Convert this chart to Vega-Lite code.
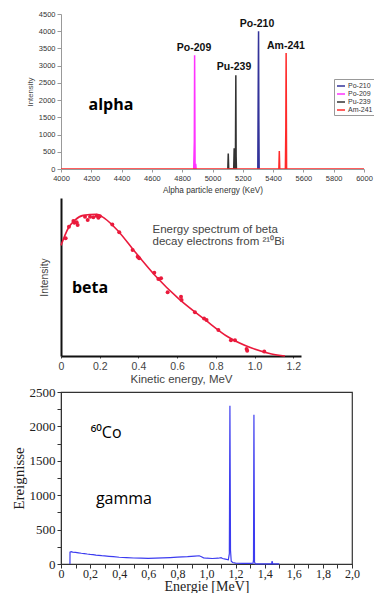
{
  "$schema": "https://vega.github.io/schema/vega-lite/v6.json",
  "padding": {"left": 10, "top": 10, "right": 0, "bottom": 0},
  "spacing": 0,
  "config": {"view": {"stroke": null}, "axis": {"grid": false, "labelOverlap": false, "labelFlush": false, "tickCount": 100}},
  "datasets": {
    "alpha": [
      {"series": "Po-210", "energy": 5299, "intensity": 0},
      {"series": "Po-210", "energy": 5303, "intensity": 3400},
      {"series": "Po-210", "energy": 5304, "intensity": 4000},
      {"series": "Po-210", "energy": 5306, "intensity": 1400},
      {"series": "Po-210", "energy": 5308, "intensity": 0},
      {"series": "Po-209", "energy": 4876, "intensity": 0},
      {"series": "Po-209", "energy": 4880, "intensity": 800},
      {"series": "Po-209", "energy": 4882, "intensity": 3300},
      {"series": "Po-209", "energy": 4885, "intensity": 0},
      {"series": "Po-209", "energy": 4889, "intensity": 150},
      {"series": "Po-209", "energy": 4892, "intensity": 0},
      {"series": "Pu-239", "energy": 5101, "intensity": 0},
      {"series": "Pu-239", "energy": 5104, "intensity": 450},
      {"series": "Pu-239", "energy": 5107, "intensity": 0},
      {"series": "Pu-239", "energy": 5140, "intensity": 0},
      {"series": "Pu-239", "energy": 5143, "intensity": 600},
      {"series": "Pu-239", "energy": 5146, "intensity": 0},
      {"series": "Pu-239", "energy": 5151, "intensity": 0},
      {"series": "Pu-239", "energy": 5154, "intensity": 2720},
      {"series": "Pu-239", "energy": 5156, "intensity": 370},
      {"series": "Pu-239", "energy": 5158, "intensity": 0},
      {"series": "Am-241", "energy": 4000, "intensity": 0},
      {"series": "Am-241", "energy": 5438, "intensity": 0},
      {"series": "Am-241", "energy": 5441, "intensity": 520},
      {"series": "Am-241", "energy": 5444, "intensity": 0},
      {"series": "Am-241", "energy": 5481, "intensity": 0},
      {"series": "Am-241", "energy": 5484, "intensity": 1200},
      {"series": "Am-241", "energy": 5486, "intensity": 3370},
      {"series": "Am-241", "energy": 5489, "intensity": 0},
      {"series": "Am-241", "energy": 6000, "intensity": 0}
    ],
    "alphaLabels": [
      {"label": "Po-209", "energy": 4878, "intensity": 3513},
      {"label": "Pu-239", "energy": 5142, "intensity": 2970},
      {"label": "Po-210", "energy": 5294, "intensity": 4200},
      {"label": "Am-241", "energy": 5485, "intensity": 3580}
    ],
    "alphaTitle": [{"label": "alpha", "energy": 4330, "intensity": 1858}],
    "betaCurve": [
      {"energy": 0, "intensity": 0.70},
      {"energy": 0.038, "intensity": 0.81},
      {"energy": 0.072, "intensity": 0.86},
      {"energy": 0.115, "intensity": 0.89},
      {"energy": 0.184, "intensity": 0.897},
      {"energy": 0.227, "intensity": 0.87},
      {"energy": 0.296, "intensity": 0.79},
      {"energy": 0.382, "intensity": 0.66},
      {"energy": 0.486, "intensity": 0.51},
      {"energy": 0.606, "intensity": 0.365},
      {"energy": 0.744, "intensity": 0.23},
      {"energy": 0.864, "intensity": 0.12},
      {"energy": 0.985, "intensity": 0.05},
      {"energy": 1.088, "intensity": 0.013},
      {"energy": 1.157, "intensity": 0.0}
    ],
    "betaPoints": [
      {"energy": 0.024, "intensity": 0.745},
      {"energy": 0.041, "intensity": 0.818},
      {"energy": 0.064, "intensity": 0.854},
      {"energy": 0.069, "intensity": 0.844},
      {"energy": 0.081, "intensity": 0.846},
      {"energy": 0.086, "intensity": 0.829},
      {"energy": 0.124, "intensity": 0.882},
      {"energy": 0.138, "intensity": 0.861},
      {"energy": 0.150, "intensity": 0.882},
      {"energy": 0.167, "intensity": 0.878},
      {"energy": 0.184, "intensity": 0.888},
      {"energy": 0.193, "intensity": 0.875},
      {"energy": 0.201, "intensity": 0.884},
      {"energy": 0.265, "intensity": 0.833},
      {"energy": 0.301, "intensity": 0.783},
      {"energy": 0.370, "intensity": 0.671},
      {"energy": 0.396, "intensity": 0.628},
      {"energy": 0.404, "intensity": 0.618},
      {"energy": 0.482, "intensity": 0.527},
      {"energy": 0.503, "intensity": 0.487},
      {"energy": 0.517, "intensity": 0.492},
      {"energy": 0.551, "intensity": 0.403},
      {"energy": 0.620, "intensity": 0.375},
      {"energy": 0.623, "intensity": 0.354},
      {"energy": 0.692, "intensity": 0.277},
      {"energy": 0.739, "intensity": 0.238},
      {"energy": 0.752, "intensity": 0.228},
      {"energy": 0.813, "intensity": 0.165},
      {"energy": 0.878, "intensity": 0.099},
      {"energy": 0.899, "intensity": 0.099},
      {"energy": 0.959, "intensity": 0.044},
      {"energy": 0.962, "intensity": 0.034},
      {"energy": 1.050, "intensity": 0.028}
    ],
    "betaText": [
      {"label": "Energy spectrum of beta", "energy": 0.473, "intensity": 0.80},
      {"label": "decay electrons from ²¹⁰Bi", "energy": 0.473, "intensity": 0.72}
    ],
    "betaTitle": [{"label": "beta", "energy": 0.15, "intensity": 0.432}],
    "gamma": [
      {"energy": 0.0615, "events": 0},
      {"energy": 0.062, "events": 172},
      {"energy": 0.07, "events": 180},
      {"energy": 0.08, "events": 172},
      {"energy": 0.10, "events": 168},
      {"energy": 0.12, "events": 162},
      {"energy": 0.14, "events": 156},
      {"energy": 0.16, "events": 152},
      {"energy": 0.18, "events": 145},
      {"energy": 0.20, "events": 140},
      {"energy": 0.22, "events": 136},
      {"energy": 0.24, "events": 130},
      {"energy": 0.26, "events": 126},
      {"energy": 0.28, "events": 121},
      {"energy": 0.30, "events": 118},
      {"energy": 0.33, "events": 112},
      {"energy": 0.36, "events": 106},
      {"energy": 0.40, "events": 98},
      {"energy": 0.45, "events": 92},
      {"energy": 0.50, "events": 87},
      {"energy": 0.55, "events": 84},
      {"energy": 0.60, "events": 82},
      {"energy": 0.65, "events": 85},
      {"energy": 0.70, "events": 88},
      {"energy": 0.75, "events": 93},
      {"energy": 0.80, "events": 100},
      {"energy": 0.87, "events": 106},
      {"energy": 0.92, "events": 114},
      {"energy": 0.95, "events": 120},
      {"energy": 0.965, "events": 106},
      {"energy": 0.98, "events": 90},
      {"energy": 1.00, "events": 84},
      {"energy": 1.04, "events": 80},
      {"energy": 1.08, "events": 84},
      {"energy": 1.10, "events": 92},
      {"energy": 1.11, "events": 80},
      {"energy": 1.13, "events": 70},
      {"energy": 1.15, "events": 60},
      {"energy": 1.157, "events": 150},
      {"energy": 1.161, "events": 2300},
      {"energy": 1.165, "events": 200},
      {"energy": 1.17, "events": 40},
      {"energy": 1.18, "events": 22},
      {"energy": 1.20, "events": 13},
      {"energy": 1.25, "events": 10},
      {"energy": 1.30, "events": 9},
      {"energy": 1.32, "events": 11},
      {"energy": 1.323, "events": 60},
      {"energy": 1.326, "events": 2170},
      {"energy": 1.330, "events": 30},
      {"energy": 1.335, "events": 3},
      {"energy": 1.40, "events": 2},
      {"energy": 1.447, "events": 2},
      {"energy": 1.451, "events": 40},
      {"energy": 1.455, "events": 2},
      {"energy": 1.50, "events": 1}
    ],
    "gammaText": [
      {"label": "⁶⁰Co", "energy": 0.204, "events": 1904, "weight": "normal"},
      {"label": "gamma", "energy": 0.24, "events": 945, "weight": "bold"}
    ]
  },
  "vconcat": [
    {
      "width": 303,
      "height": 155,
      "layer": [
        {
          "data": {"name": "alpha"},
          "mark": {"type": "line", "strokeWidth": 1.5, "clip": true},
          "encoding": {
            "x": {"field": "energy", "type": "quantitative",
              "scale": {"domain": [4000, 6000], "nice": false},
              "axis": {"title": ["Alpha particle energy (KeV)", " "], "titleLineHeight": 4, "values": [4000, 4200, 4400, 4600, 4800, 5000, 5200, 5400, 5600, 5800, 6000], "format": "d",
                "tickCount": 100, "labelOverlap": false, "labelFlush": false,
                "labelFont": "Liberation Sans", "labelFontSize": 7.5, "labelColor": "#333", "labelPadding": 2,
                "titleFont": "Liberation Sans", "titleFontSize": 8.2, "titleFontWeight": "normal", "titleColor": "#333", "titlePadding": 5,
                "domainColor": "#999", "tickColor": "#999", "tickSize": 3}},
            "y": {"field": "intensity", "type": "quantitative",
              "scale": {"domain": [0, 4500], "nice": false},
              "axis": {"title": "Intensity", "values": [0, 500, 1000, 1500, 2000, 2500, 3000, 3500, 4000, 4500], "format": "d",
                "tickCount": 100, "labelOverlap": false, "labelFlush": false,
                "labelFont": "Liberation Sans", "labelFontSize": 7.5, "labelColor": "#333", "labelPadding": 2,
                "titleFont": "Liberation Sans", "titleFontSize": 7.8, "titleFontWeight": "normal", "titleColor": "#444", "titlePadding": 4,
                "domainColor": "#999", "tickColor": "#999", "tickSize": 4}},
            "color": {"field": "series", "type": "nominal",
              "scale": {"domain": ["Po-210", "Po-209", "Pu-239", "Am-241"], "range": ["#33339a", "#ff33ff", "#333333", "#ff2a2a"]},
              "legend": {"orient": "none", "legendX": 273, "legendY": 65, "title": null,
                "labelFont": "Liberation Sans", "labelFontSize": 7, "labelColor": "#333", "labelOffset": 2,
                "symbolType": "stroke", "symbolSize": 64, "symbolStrokeWidth": 1.5,
                "strokeColor": "#999", "fillColor": "white", "padding": 2, "rowPadding": 0}}
          }
        },
        {
          "data": {"name": "alphaLabels"},
          "mark": {"type": "text", "font": "Liberation Sans", "fontWeight": "bold", "fontSize": 10.5, "color": "#111", "baseline": "middle"},
          "encoding": {
            "x": {"field": "energy", "type": "quantitative"},
            "y": {"field": "intensity", "type": "quantitative"},
            "text": {"field": "label"}
          }
        },
        {
          "data": {"name": "alphaTitle"},
          "mark": {"type": "text", "font": "Open Sans", "fontWeight": "bold", "fontSize": 16, "color": "#000", "baseline": "middle"},
          "encoding": {
            "x": {"field": "energy", "type": "quantitative"},
            "y": {"field": "intensity", "type": "quantitative"},
            "text": {"field": "label"}
          }
        }
      ]
    },
    {
      "width": 240,
      "height": 158,
      "layer": [
        {
          "data": {"name": "betaCurve"},
          "mark": {"type": "line", "color": "#ea1a3c", "strokeWidth": 1.6, "interpolate": "monotone"},
          "encoding": {
            "x": {"field": "energy", "type": "quantitative",
              "scale": {"domain": [0, 1.24], "nice": false},
              "axis": {"title": "Kinetic energy, MeV", "values": [0, 0.2, 0.4, 0.6, 0.8, 1.0, 1.2],
                "tickCount": 100, "labelOverlap": false, "labelFlush": false,
                "labelExpr": "datum.value == 0 ? '0' : format(datum.value, '.1f')",
                "labelFont": "Liberation Sans", "labelFontSize": 10.5, "labelColor": "#444", "labelPadding": 3,
                "titleFont": "Liberation Sans", "titleFontSize": 11.5, "titleFontWeight": "normal", "titleColor": "#444", "titlePadding": 2,
                "domainColor": "#111", "domainWidth": 2, "tickColor": "#444", "tickSize": 2}},
            "y": {"field": "intensity", "type": "quantitative",
              "scale": {"domain": [0, 1], "nice": false},
              "axis": {"title": "Intensity", "labels": false, "ticks": false,
                "titleFont": "Liberation Sans", "titleFontSize": 10.3, "titleFontWeight": "normal", "titleColor": "#444", "titlePadding": 12,
                "domainColor": "#111", "domainWidth": 2}}
          }
        },
        {
          "data": {"name": "betaPoints"},
          "mark": {"type": "circle", "color": "#ea1a3c", "opacity": 1, "size": 16},
          "encoding": {
            "x": {"field": "energy", "type": "quantitative"},
            "y": {"field": "intensity", "type": "quantitative"}
          }
        },
        {
          "data": {"name": "betaText"},
          "mark": {"type": "text", "font": "Liberation Sans", "fontSize": 11.5, "color": "#444", "align": "left", "baseline": "middle"},
          "encoding": {
            "x": {"field": "energy", "type": "quantitative"},
            "y": {"field": "intensity", "type": "quantitative"},
            "text": {"field": "label"}
          }
        },
        {
          "data": {"name": "betaTitle"},
          "mark": {"type": "text", "font": "Open Sans", "fontWeight": "bold", "fontSize": 16, "color": "#000", "baseline": "middle"},
          "encoding": {
            "x": {"field": "energy", "type": "quantitative"},
            "y": {"field": "intensity", "type": "quantitative"},
            "text": {"field": "label"}
          }
        }
      ]
    },
    {
      "width": 291,
      "height": 172,
      "view": {"stroke": "#333", "strokeWidth": 1.2},
      "layer": [
        {
          "data": {"name": "gamma"},
          "mark": {"type": "line", "color": "#3c3cf0", "strokeWidth": 1.2},
          "encoding": {
            "x": {"field": "energy", "type": "quantitative",
              "scale": {"domain": [0, 2], "nice": false},
              "axis": {"title": "Energie [MeV]", "values": [0, 0.1, 0.2, 0.3, 0.4, 0.5, 0.6, 0.7, 0.8, 0.9, 1.0, 1.1, 1.2, 1.3, 1.4, 1.5, 1.6, 1.7, 1.8, 1.9, 2.0],
                "tickCount": 100, "labelOverlap": false, "labelFlush": false,
                "labelExpr": "round(datum.value * 10) % 2 == 0 ? (datum.value == 0 ? '0' : replace(format(datum.value, '.1f'), '.', ',')) : ''",
                "labelFont": "Liberation Serif", "labelFontSize": 12, "labelColor": "#222", "labelPadding": 0,
                "titleFont": "Liberation Serif", "titleFontSize": 14, "titleFontWeight": "normal", "titleColor": "#222", "titlePadding": 0,
                "domainColor": "#333", "tickColor": "#333", "tickSize": 4}},
            "y": {"field": "events", "type": "quantitative",
              "scale": {"domain": [0, 2500], "nice": false},
              "axis": {"title": "Ereignisse", "values": [0, 250, 500, 750, 1000, 1250, 1500, 1750, 2000, 2250, 2500],
                "tickCount": 100, "labelOverlap": false, "labelFlush": false,
                "labelExpr": "datum.value % 500 == 0 ? format(datum.value, 'd') : ''",
                "labelFont": "Liberation Serif", "labelFontSize": 13, "labelColor": "#222", "labelPadding": 2,
                "titleFont": "Liberation Serif", "titleFontSize": 15, "titleFontWeight": "normal", "titleColor": "#222", "titlePadding": 3,
                "domainColor": "#333", "tickColor": "#333", "tickSize": 4}}
          }
        },
        {
          "data": {"name": "gammaText"},
          "mark": {"type": "text", "font": "Open Sans", "fontSize": 16, "color": "#000", "align": "left", "baseline": "middle"},
          "encoding": {
            "x": {"field": "energy", "type": "quantitative"},
            "y": {"field": "events", "type": "quantitative"},
            "text": {"field": "label"},
            "fontWeight": {"field": "weight", "type": "nominal", "scale": null}
          }
        }
      ]
    }
  ]
}
